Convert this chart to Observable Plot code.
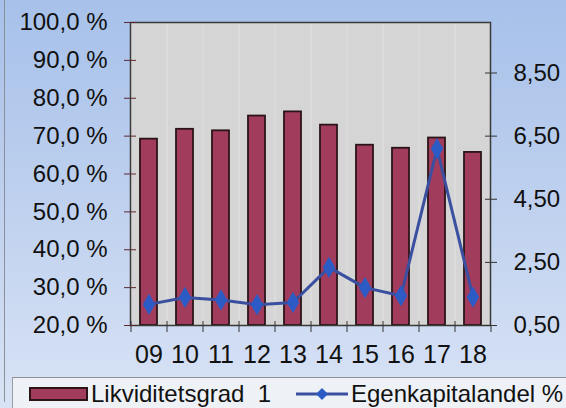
<!DOCTYPE html>
<html>
<head>
<meta charset="utf-8">
<script src="https://cdn.jsdelivr.net/npm/d3@7"></script>
<script src="https://cdn.jsdelivr.net/npm/@observablehq/plot@0.6"></script>
<style>
  html, body { margin: 0; padding: 0; }
  #chart {
    position: relative; width: 566px; height: 408px; overflow: hidden;
    background: linear-gradient(to bottom, #a7c1ea 0%, #bccfee 45%, #d9e3f5 100%);
    font-family: "Liberation Sans", Arial, sans-serif;
  }
  #edge { position: absolute; left: 4px; top: 0; width: 0; height: 402px; border-left: 1.5px solid #8a8f99; border-bottom-left-radius: 8px; }
  #plotwrap { position: absolute; left: 0; top: 0; }
  #legend {
    position: absolute; left: 12px; top: 377px; width: 554px; height: 31px;
    background: #eef1f6; border-top: 1.5px solid #8d9096; border-left: 1.5px solid #9a9da3;
    font-size: 24px; color: #111;
  }
  #legend .item { position: absolute; top: 1px; display: flex; align-items: center; height: 30px; white-space: pre; }
</style>
</head>
<body>
<div id="chart">
  <div id="edge"></div>
  <div id="plotwrap"></div>
  <div id="legend"></div>
</div>
<script>
const years = ["09","10","11","12","13","14","15","16","17","18"];
const likviditetsgrad = [69.2, 71.8, 71.4, 75.3, 76.4, 72.9, 67.6, 66.8, 69.5, 65.7];
const egenkapitalandel = [1.17, 1.39, 1.31, 1.16, 1.23, 2.34, 1.70, 1.44, 6.10, 1.40];
const leftTicks = [20, 30, 40, 50, 60, 70, 80, 90, 100];
const rightTicks = [0.5, 2.5, 4.5, 6.5, 8.5];
const leftDomain = [20, 100];
const rightDomain = [0.5, 10.1];
const seriesNames = ["Likviditetsgrad  1", "Egenkapitalandel %"];

const barColor = "#a23c5d";
const barEdge = "#2b1418";
const lineColor = "#3a4f9f";
const dotColor = "#2d5bc6";

const data = years.map((y, i) => ({year: y, liq: likviditetsgrad[i], ek: egenkapitalandel[i]}));
const toLeft = d3.scaleLinear().domain(rightDomain).range(leftDomain);
const comma = (v, n) => v.toFixed(n).replace(".", ",");

const plot = Plot.plot({
  width: 566, height: 376,
  marginLeft: 130, marginRight: 76, marginTop: 22, marginBottom: 51,
  x: {domain: years, paddingInner: 0.53, paddingOuter: 0.265},
  y: {domain: leftDomain},
  style: {background: "transparent", fontFamily: "'Liberation Sans', Arial, sans-serif", fontSize: "24px", color: "#111", overflow: "visible"},
  marks: [
    Plot.frame({fill: "#d5d5d5"}),
    Plot.gridX({ticks: years, dx: -18, stroke: "#ffffff", strokeOpacity: 0.3}),
    Plot.barY(data, {x: "year", y1: leftDomain[0], y2: "liq", fill: barColor, stroke: barEdge, strokeWidth: 1.8}),
    Plot.line(data, {x: "year", y: d => toLeft(d.ek), stroke: lineColor, strokeWidth: 3}),
    Plot.dot(data, {x: "year", y: d => toLeft(d.ek), symbol: "diamond", r: 6, fill: dotColor, stroke: dotColor, strokeWidth: 1}),
    Plot.frame({stroke: "#3a3a3a", strokeWidth: 1.5}),
    // left axis
    Plot.axisY({ticks: leftTicks, tickFormat: d => comma(d, 1) + " %", tickSize: 6, tickPadding: 17, fontSize: 24, stroke: "#5a2a30", label: null}),
    Plot.axisY({ticks: leftTicks, tickFormat: () => "", tickSize: 6, dx: 6, stroke: "#5a2a30", label: null}),
    // right axis
    Plot.axisY({anchor: "right", ticks: rightTicks.map(toLeft), tickFormat: v => comma(toLeft.invert(v), 2), tickSize: 6, tickPadding: 17, fontSize: 24, stroke: "#333", label: null}),
    Plot.axisY({anchor: "right", ticks: rightTicks.map(toLeft), tickFormat: () => "", tickSize: 6, dx: -6, stroke: "#333", label: null}),
    // bottom axis: labels at category centers, ticks at category boundaries
    Plot.axisX({ticks: years, tickSize: 0, tickPadding: 20, fontSize: 25, label: null}),
    Plot.axisX({ticks: years, tickFormat: () => "", tickSize: 7, dx: -18, stroke: "#333", label: null}),
    Plot.axisX({ticks: [years[years.length - 1]], tickFormat: () => "", tickSize: 7, dx: 18, stroke: "#333", label: null}),
    Plot.axisX({ticks: years, tickFormat: () => "", tickSize: 4, dx: -18, dy: -4, stroke: "#333", label: null})
  ]
});
document.getElementById("plotwrap").appendChild(plot);

// legend
const legend = document.getElementById("legend");
const item1 = document.createElement("div");
item1.className = "item";
item1.style.left = "16px";
item1.innerHTML = `<svg width="60" height="16" style="margin-right:2px"><rect x="1" y="2" width="57" height="12" fill="${barColor}" stroke="${barEdge}" stroke-width="2"/></svg><span>${seriesNames[0]}</span>`;
legend.appendChild(item1);
const item2 = document.createElement("div");
item2.className = "item";
item2.style.left = "282px";
item2.innerHTML = `<svg width="54" height="16" style="margin-right:2px"><line x1="1" y1="8" x2="53" y2="8" stroke="${lineColor}" stroke-width="3"/><path d="M27,2 L33,8 L27,14 L21,8 Z" fill="${dotColor}"/></svg><span>${seriesNames[1]}</span>`;
legend.appendChild(item2);
</script>
</body>
</html>
